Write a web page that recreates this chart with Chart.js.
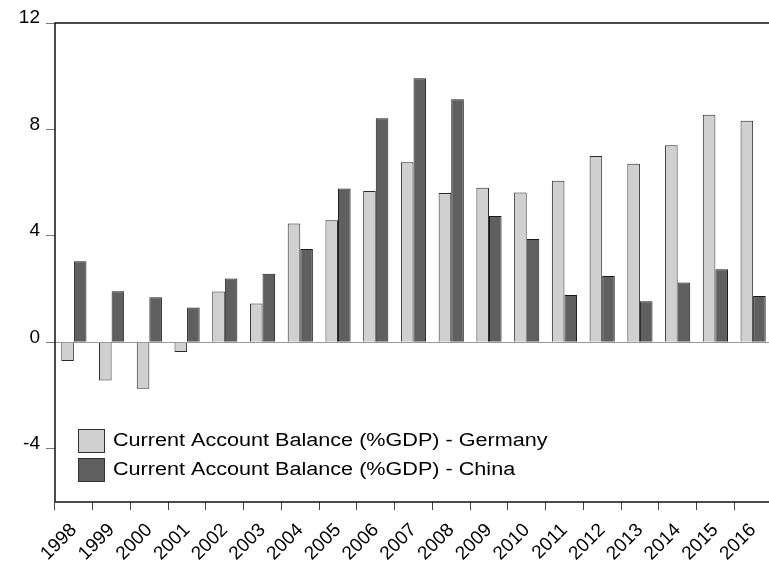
<!DOCTYPE html>
<html>
<head>
<meta charset="utf-8">
<script src="https://cdn.jsdelivr.net/npm/chart.js@4"></script>
<style>
html,body{margin:0;padding:0;background:#fff;overflow:hidden}
#wrap{width:772px;height:569px}
</style>
</head>
<body>
<div id="wrap"><canvas id="chart"></canvas></div>
<script>

let years = ["1998","1999","2000","2001","2002","2003","2004","2005","2006","2007",
"2008","2009","2010","2011","2012","2013","2014","2015","2016"]

let germany = [-0.70,-1.43,-1.74,-0.36,1.91,1.46,4.47,4.59,5.69,6.77,
5.61,5.81,5.63,6.07,7.00,6.71,7.41,8.55,8.33]

let china = [3.05,1.92,1.69,1.31,2.40,2.58,3.51,5.78,8.42,9.92,
9.13,4.75,3.88,1.78,2.49,1.54,2.25,2.75,1.74]

let seriesNames = ["Current Account Balance (%GDP) - Germany","Current Account Balance (%GDP) - China"]

let yTicks = [-4,0,4,8,12]


// legend drawn inside the plot, bottom left (text a bit wide like the original)
let insideLegend = {
id:"insideLegend",
afterDraw(chart){
let ctx = chart.ctx
let area = chart.chartArea
ctx.save()
ctx.font = "18px 'Liberation Sans', Arial, sans-serif"
ctx.textBaseline = "middle"
chart.data.datasets.forEach((ds,i)=>{
let x = area.left + 23
let y = area.top + 406 + i*29
ctx.fillStyle = ds.backgroundColor
ctx.fillRect(x,y,26,23)
ctx.strokeStyle = "#333"
ctx.lineWidth = 1
ctx.strokeRect(x+0.5,y+0.5,26,23)
ctx.save()
ctx.translate(x+35, y+12)
ctx.scale(1.2,1)
ctx.fillStyle = "#000"
ctx.fillText(ds.label, 0, 0)
ctx.restore()
})
ctx.restore()
}
}

// frame on top of plot
let frame = {
id:"frame",
afterDraw(chart){
let ctx = chart.ctx
let a = chart.chartArea
ctx.save()
ctx.strokeStyle = "#111"
ctx.lineWidth = 1.5
ctx.beginPath()
ctx.moveTo(a.left, a.bottom)
ctx.lineTo(a.left, a.top)
ctx.lineTo(a.right+5, a.top)
ctx.moveTo(a.left, a.bottom)
ctx.lineTo(a.right+5, a.bottom)
ctx.stroke()
ctx.restore()
}
}


new Chart(document.getElementById("chart"),{

type:"bar",

data:{
labels:years,
datasets:[
{
label:seriesNames[0],
data:germany,
backgroundColor:"#d0d0d0",
borderColor:"#2a2a2a",
borderWidth:1
},
{
label:seriesNames[1],
data:china,
backgroundColor:"#5f5f5f",
borderColor:"#1a1a1a",
borderWidth:1
}
]
},

options:{
responsive:true,
maintainAspectRatio:false,
animation:false,
categoryPercentage:0.667,
barPercentage:1.0,
layout:{padding:{top:23,right:0,bottom:0,left:0}},
plugins:{
legend:{display:false},
tooltip:{enabled:false}
},
scales:{
x:{
grid:{
offset:true,
drawOnChartArea:false,
tickLength:8,
tickColor:"#444",
lineWidth:1
},
border:{display:false},
ticks:{
minRotation:45,
maxRotation:45,
color:"#000",
padding:9,
font:{family:"'Liberation Sans', Arial, sans-serif",size:19}
},
afterFit(scale){
scale.height = 67
scale.paddingLeft = 0
scale.paddingRight = 0
}
},
y:{
min:-6,
max:12,
afterBuildTicks(scale){
scale.ticks = yTicks.map(v=>({value:v}))
},
grid:{
color:(c)=> c.tick && c.tick.value===0 ? "#999" : "rgba(0,0,0,0)",
tickColor:"#777",
tickLength:9,
lineWidth:1
},
border:{display:false},
ticks:{
color:"#000",
padding:6,
labelOffset:-5,
font:{family:"'Liberation Sans', Arial, sans-serif",size:19}
},
afterFit(scale){ scale.width = 55 }
}
}
},

plugins:[insideLegend, frame]

})

</script>
</body>
</html>
